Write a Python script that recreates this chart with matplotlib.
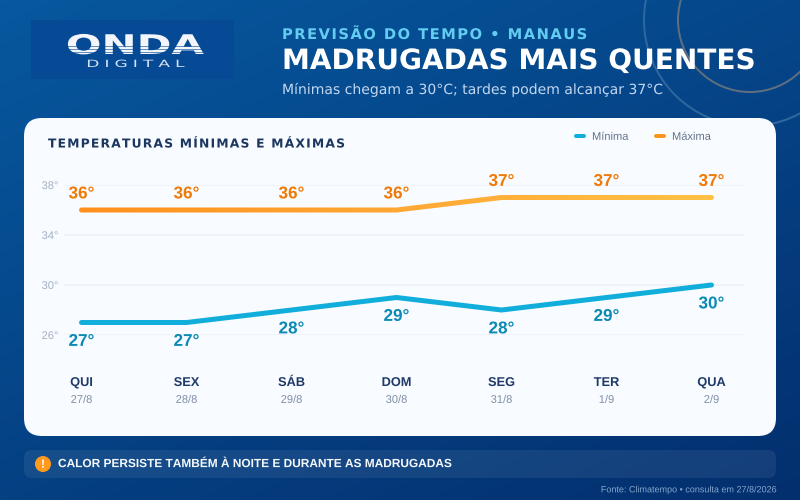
import numpy as np
import matplotlib
matplotlib.use('Agg')
import matplotlib.pyplot as plt
import matplotlib.patheffects as pe
from matplotlib.colors import LinearSegmentedColormap
from matplotlib.patches import FancyBboxPatch, Circle, Rectangle
from matplotlib.transforms import Affine2D, Bbox

plt.rcParams['text.hinting'] = 'no_hinting'
plt.rcParams['text.hinting_factor'] = 8
plt.rcParams['text.kerning_factor'] = 6

# data
days = ["QUI", "SEX", "SÁB", "DOM", "SEG", "TER", "QUA"]
dates = ["27/8", "28/8", "29/8", "30/8", "31/8", "1/9", "2/9"]
t_min = [27, 27, 28, 29, 28, 29, 30]
t_max = [36, 36, 36, 36, 37, 37, 37]
y_ticks = [26, 30, 34, 38]

px = 0.72  # 1 pixel in points at dpi 100
SANS = 'Liberation Sans'
HAIR = '\u200a'
# glyphs drawn as outlines, closer to the browser look
AS_PATH = [pe.Normal()]


def spaced(s, n=1):
    # no letter spacing in matplotlib, hair spaces get close
    return (HAIR * n).join(s)


class StretchX(pe.AbstractPathEffect):
    # wide logo lettering
    def __init__(self, sx, x0):
        super().__init__()
        self.sx = sx
        self.x0 = x0

    def draw_path(self, renderer, gc, tpath, affine, rgbFace=None):
        t = affine + Affine2D().translate(-self.x0, 0).scale(self.sx, 1).translate(self.x0, 0)
        renderer.draw_path(gc, tpath, t, rgbFace)


fig = plt.figure(figsize=(8, 5), dpi=100)

# background in pixel coordinates
bg = fig.add_axes([0, 0, 1, 1])
bg.set_xlim(0, 800)
bg.set_ylim(500, 0)
bg.axis('off')

xx, yy = np.meshgrid(np.linspace(0, 1, 400), np.linspace(0, 1, 250))
bg_cmap = LinearSegmentedColormap.from_list('bg', ['#07589f', '#032f6e'])
bg.imshow(xx * 0.42 + yy * 0.58, cmap=bg_cmap, extent=(0, 800, 500, 0), aspect='auto', zorder=0)

bg.add_patch(Circle((750, 20), 106, fc='none', ec='#2f679f', lw=2 * px, zorder=1))
bg.add_patch(Circle((750, 20), 72, fc='none', ec='#5f6f80', lw=2 * px, zorder=1))

# logo
bg.add_patch(Rectangle((31, 20), 203, 59, fc='#064a96', ec='none', zorder=1))
bg.text(135, 54, "ONDA", fontsize=19.5, fontweight='bold', color='#f2f6fb', ha='center', va='baseline',
        zorder=2, path_effects=[StretchX(1.55, 135)])
for y in [46, 49, 52]:
    bg.plot([60, 210], [y, y], color='#064a96', lw=0.6 * px, zorder=3)
bg.text(135.5, 67, spaced("DIGITAL", 3), fontsize=7.2, color='#d5e2f2', ha='center', va='baseline', zorder=2,
        path_effects=[StretchX(1.7, 135.5)])

# header
bg.text(282, 39, spaced("PREVISÃO DO TEMPO • MANAUS"), fontsize=10.6, fontweight='bold', color='#62cdf0',
        ha='left', va='baseline', zorder=2, path_effects=AS_PATH)
bg.text(282, 69, "MADRUGADAS MAIS QUENTES", fontsize=20.15, fontweight='bold', color='white',
        ha='left', va='baseline', zorder=2, path_effects=AS_PATH)
bg.text(282, 94, "Mínimas chegam a 30°C; tardes podem alcançar 37°C", fontsize=10.08, color='#c3d8f0',
        ha='left', va='baseline', zorder=2, path_effects=AS_PATH)

# card
bg.add_patch(FancyBboxPatch((24, 118), 752, 318, boxstyle='round,pad=0,rounding_size=18',
                            fc='#f8fbff', ec='none', zorder=2))
bg.text(48, 147.5, spaced("TEMPERATURAS MÍNIMAS E MÁXIMAS"), fontsize=8.85, fontweight='bold', color='#1b365f',
        ha='left', va='baseline', zorder=3, path_effects=AS_PATH)

# legend
bg.plot([576, 584], [136, 136], color='#12aedb', lw=4 * px, solid_capstyle='round', zorder=3)
bg.text(592, 137, "Mínima", fontsize=8, family=SANS, color='#64748b', va='center', zorder=3, path_effects=AS_PATH)
bg.plot([656, 664], [136, 136], color='#ff951f', lw=4 * px, solid_capstyle='round', zorder=3)
bg.text(672, 137, "Máxima", fontsize=8, family=SANS, color='#64748b', va='center', zorder=3, path_effects=AS_PATH)

# footer
bg.add_patch(FancyBboxPatch((24, 450), 752, 28, boxstyle='round,pad=0,rounding_size=8',
                            fc='white', alpha=0.07, ec='none', zorder=2))
bg.add_patch(Circle((43, 464), 8, fc='#ff9a1f', ec='none', zorder=3))
bg.text(43, 464.5, "!", fontsize=8.5, fontweight='bold', family=SANS, color='white', ha='center', va='center',
        zorder=4, path_effects=AS_PATH)
bg.text(58, 464, "CALOR PERSISTE TAMBÉM À NOITE E DURANTE AS MADRUGADAS", fontsize=8.55, fontweight='bold',
        family=SANS, color='#f4f8fc', va='center', zorder=3, path_effects=AS_PATH)
bg.text(776, 490, "Fonte: Climatempo • consulta em 27/8/2026", fontsize=6.5, family=SANS, color='#86a7cf',
        ha='right', va='center', zorder=3, path_effects=AS_PATH)

# chart
ax = fig.add_axes([64 / 800, 1 - 335 / 500, 680 / 800, 150 / 500])
ax.patch.set_alpha(0)
x = np.arange(len(days))
ax.set_xlim(-17.5 / 105, 6 + 32.5 / 105)
ax.set_ylim(26, 38)
for s in ax.spines.values():
    s.set_visible(False)

ax.set_yticks(y_ticks)
ax.set_yticklabels([f"{v}°" for v in y_ticks], fontsize=8, family=SANS, color='#a4b1c4', path_effects=AS_PATH)
ax.grid(axis='y', color='#eef3fa', lw=2 * px)
ax.set_axisbelow(True)
ax.set_xticks(x)
ax.set_xticklabels(days, fontsize=9.2, fontweight='bold', family=SANS, color='#1f3a68', va='baseline',
                   path_effects=AS_PATH)
ax.tick_params(axis='y', length=0, pad=4)
ax.tick_params(axis='x', length=0, pad=51 * px)

# min line
ax.plot(x, t_min, color='#12aedb', lw=5 * px, solid_capstyle='round', solid_joinstyle='miter', clip_on=False)

# max line, gradient: same line drawn through narrow clip boxes
grad = LinearSegmentedColormap.from_list('grad', ['#ff8f1a', '#ffa733', '#ffc247'])
for left in range(72, 724, 4):
    line, = ax.plot(x, t_max, color=grad((left - 72) / 652), lw=5 * px, solid_capstyle='round',
                    solid_joinstyle='miter')
    line.set_clip_box(Bbox([[left, 0], [left + 4, 500]]))

for i in x:
    ax.annotate(f"{t_max[i]}°", (i, t_max[i]), xytext=(0, 16 * px), textcoords='offset points', ha='center',
                va='center', fontsize=12.3, fontweight='bold', family=SANS, color='#f07a05', annotation_clip=False,
                path_effects=AS_PATH)
    ax.annotate(f"{t_min[i]}°", (i, t_min[i]), xytext=(0, -19 * px), textcoords='offset points', ha='center',
                va='center', fontsize=12.3, fontweight='bold', family=SANS, color='#0b8ab3', annotation_clip=False,
                path_effects=AS_PATH)
    ax.annotate(dates[i], (i, 0), xycoords=('data', 'axes fraction'), xytext=(0, -65 * px),
                textcoords='offset points', ha='center', va='center', fontsize=8, family=SANS, color='#7f8ea6',
                annotation_clip=False, path_effects=AS_PATH)

fig.savefig('out.png', dpi=100)
